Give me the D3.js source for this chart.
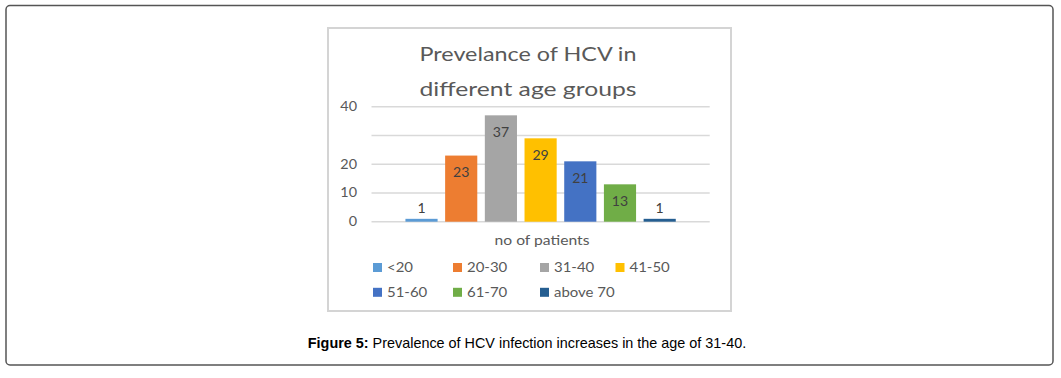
<!DOCTYPE html>
<html>
<head>
<meta charset="utf-8">
<script src="https://cdn.jsdelivr.net/npm/d3@7"></script>
<style>
  html, body { margin: 0; padding: 0; background: #fff; }
  svg { display: block; }
</style>
</head>
<body>
<script>
const categories = ["<20", "20-30", "31-40", "41-50", "51-60", "61-70", "above 70"];
const values = [1, 23, 37, 29, 21, 13, 1];
const colors = ["#5B9BD5", "#ED7D31", "#A5A5A5", "#FFC000", "#4472C4", "#70AD47", "#255E91"];
const tickValues = [0, 10, 20, 30, 40];
const tickLabels = ["0", "10", "20", "", "40"];
const titleLines = ["Prevelance of HCV in", "different age groups"];
const axisTitle = "no of patients";
const captionBold = "Figure 5:";
const captionText = " Prevalence of HCV infection increases in the age of 31-40.";

const W = 1061, H = 378;
const svg = d3.select("body").append("svg").attr("width", W).attr("height", H);
const font = "Lato, 'Open Sans', sans-serif";
const textCol = "#595959";
const stretch = 1.15;
function widen(sel, k) {
  sel.each(function () {
    const w = this.getComputedTextLength();
    if (w > 0) d3.select(this).attr("textLength", w * k).attr("lengthAdjust", "spacingAndGlyphs");
  });
}

// outer figure frame
svg.append("rect").attr("x", 6).attr("y", 5.5).attr("width", 1047).attr("height", 359.5)
  .attr("rx", 4).attr("fill", "none").attr("stroke", "#555").attr("stroke-width", 1.5);

// chart box
svg.append("rect").attr("x", 328).attr("y", 28).attr("width", 403).attr("height", 283)
  .attr("fill", "#fff").attr("stroke", "#d4d4d4").attr("stroke-width", 2);

// title
const titleW = [217, 217];
titleLines.forEach((t, i) => {
  svg.append("text").attr("x", 528).attr("y", 61 + i * 35)
    .attr("text-anchor", "middle").attr("font-family", font).attr("font-size", 20)
    .attr("fill", textCol).attr("textLength", titleW[i]).attr("lengthAdjust", "spacingAndGlyphs")
    .text(t);
});

const y = d3.scaleLinear().domain([0, 40]).range([221.7, 106.7]);
const x = d3.scaleBand().domain(categories).range([371.5, 709.7])
  .paddingInner(0.19).paddingOuter(0.855);

// gridlines
svg.append("g").selectAll("line").data(tickValues).join("line")
  .attr("x1", 371.5).attr("x2", 709.7)
  .attr("y1", d => y(d)).attr("y2", d => y(d))
  .attr("stroke", "#d9d9d9").attr("stroke-width", 1.5);

// y tick labels
svg.append("g").selectAll("text").data(tickValues).join("text")
  .attr("x", 357).attr("y", d => y(d)).attr("dy", "0.35em")
  .attr("text-anchor", "end").attr("font-family", font).attr("font-size", 12.5)
  .attr("fill", textCol).text((d, i) => tickLabels[i])
  .call(widen, stretch);

// bars
svg.append("g").selectAll("rect").data(values).join("rect")
  .attr("x", (d, i) => x(categories[i])).attr("width", x.bandwidth())
  .attr("y", d => y(d)).attr("height", d => y(0) - y(d))
  .attr("fill", (d, i) => colors[i]);

// value labels
svg.append("g").selectAll("text").data(values).join("text")
  .attr("x", (d, i) => x(categories[i]) + x.bandwidth() / 2)
  .attr("y", d => d > 5 ? y(d) + 17 : y(d) - 10)
  .attr("dy", "0.35em").attr("text-anchor", "middle")
  .attr("font-family", font).attr("font-size", 13).attr("fill", "#404040")
  .text(d => d)
  .call(widen, 1.08);

// axis title
svg.append("text").attr("x", 542).attr("y", 240).attr("dy", "0.35em")
  .attr("text-anchor", "middle").attr("font-family", font).attr("font-size", 13)
  .attr("fill", textCol).attr("textLength", 95).attr("lengthAdjust", "spacingAndGlyphs")
  .text(axisTitle);

// legend
const colX = [373, 453, 540, 615.5];
const rowY = [267.5, 292.3];
const lg = svg.append("g").selectAll("g").data(categories).join("g")
  .attr("transform", (d, i) => `translate(${colX[i % 4]},${rowY[Math.floor(i / 4)]})`);
lg.append("rect").attr("x", 0).attr("y", -4.5).attr("width", 9).attr("height", 9)
  .attr("fill", (d, i) => colors[i]);
lg.append("text").attr("x", 14).attr("y", 0).attr("dy", "0.35em")
  .attr("font-family", font).attr("font-size", 13).attr("fill", textCol).text(d => d)
  .call(widen, stretch);

// caption
const cap = svg.append("text").attr("x", 527).attr("y", 348).attr("text-anchor", "middle")
  .attr("font-family", "'Liberation Sans', Arial, sans-serif").attr("font-size", 14.4).attr("fill", "#000");
cap.append("tspan").attr("font-weight", "bold").text(captionBold);
cap.append("tspan").text(captionText);
</script>
</body>
</html>
